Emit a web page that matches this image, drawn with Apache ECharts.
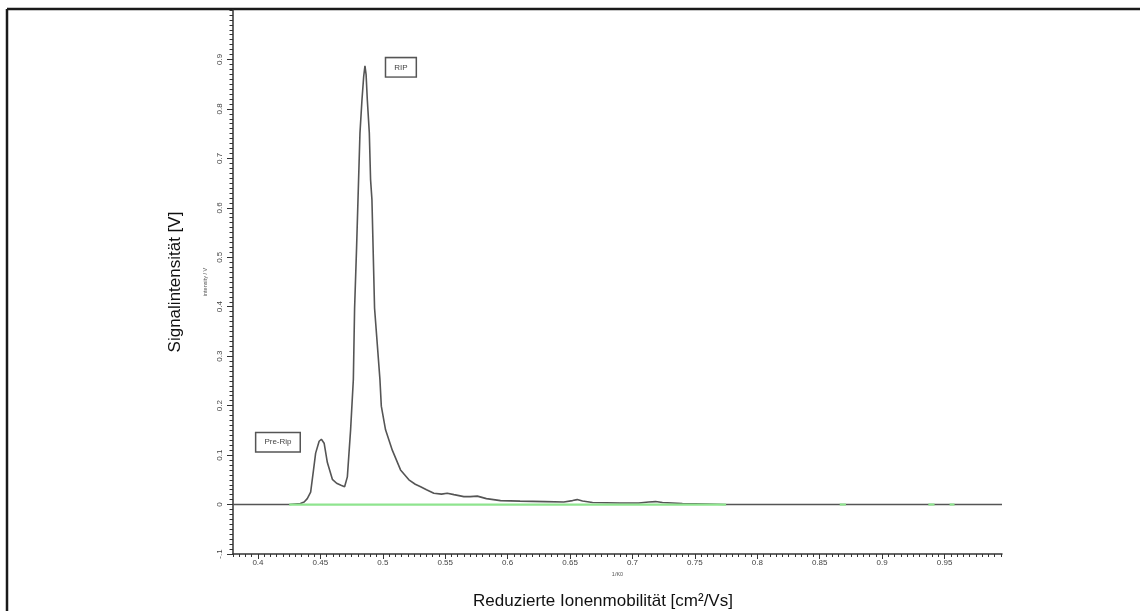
<!DOCTYPE html>
<html>
<head>
<meta charset="utf-8">
<script src="https://cdn.jsdelivr.net/npm/echarts@6/dist/echarts.min.js"></script>
<style>html,body{margin:0;padding:0;background:#fff}#c{width:1140px;height:611px}</style>
</head>
<body>
<div id="c"></div>
<script>
// ---- data ----
var ionMobility = [0.380,0.425,0.434,0.437,0.4395,0.4422,0.4445,0.4462,0.449,0.4508,0.453,0.4556,0.4596,0.4630,0.4665,0.4694,0.4716,0.4742,0.4764,0.4774,0.4790,0.4806,0.4817,0.4833,0.4847,0.4857,0.4866,0.4876,0.4892,0.4902,0.4913,0.4934,0.4977,0.4988,0.5022,0.5076,0.5142,0.5209,0.5260,0.5303,0.5350,0.5409,0.5470,0.5516,0.5570,0.5649,0.5700,0.5757,0.5830,0.5943,0.610,0.630,0.645,0.652,0.6557,0.660,0.668,0.690,0.705,0.713,0.7185,0.724,0.740,0.760,0.775,0.996];
var signal      = [0,    0,    0.002,0.005,0.012,0.025, 0.070, 0.104, 0.128,0.132, 0.124,0.085, 0.051, 0.043, 0.039, 0.036, 0.056, 0.151, 0.253, 0.397, 0.520, 0.657, 0.751, 0.818, 0.866, 0.887, 0.870, 0.818, 0.751, 0.657, 0.616, 0.397, 0.253, 0.199, 0.151, 0.110, 0.070, 0.050, 0.041, 0.036, 0.030, 0.023, 0.021, 0.023, 0.020, 0.016, 0.016, 0.017, 0.012, 0.008, 0.007,0.006,0.005,0.008,0.010, 0.007,0.004,0.003,0.003,0.005,0.006, 0.004,0.002,0.001,0.000,0];
var greenSegments = [[0.425,0.775],[0.866,0.871],[0.937,0.942],[0.954,0.958]];
var xTickLabels = [0.4,0.45,0.5,0.55,0.6,0.65,0.7,0.75,0.8,0.85,0.9,0.95];
var yTickLabels = [-0.1,0,0.1,0.2,0.3,0.4,0.5,0.6,0.7,0.8,0.9];
var annotations = [
  {name:'RIP', x:0.5145, y:0.884},
  {name:'Pre-Rip', x:0.416, y:0.126}
];
var X_MIN = 0.38, X_MAX = 0.996, Y_MIN = -0.1, Y_MAX = 1.0;

// minor tick positions
var xMinor = [], yMinor = [];
for (var i = 0; i <= 123; i++) { var v = +(0.38 + i*0.005).toFixed(3); if (v <= X_MAX) xMinor.push(v); }
for (var j = 0; j <= 110; j++) { yMinor.push(+(-0.1 + j*0.01).toFixed(2)); }

var curve = ionMobility.map(function(x,k){ return [x, signal[k]]; });

var FONT = 'Liberation Sans, Arial, sans-serif';
var lblFont = {fontFamily:FONT, fontSize:8, color:'#444'};

var series = [{
  type:'line', name:'spectrum', xAxisIndex:0, yAxisIndex:0, data:curve,
  showSymbol:false, smooth:false,
  lineStyle:{color:'#555555', width:1.6}, z:2,
  markPoint:{
    symbol:'rect', symbolSize:0,
    label:{show:true, formatter:'{b}', fontFamily:FONT, fontSize:8, color:'#444',
      borderColor:'#555', borderWidth:1.5, backgroundColor:'#fff', padding:[5,8,5,8]},
    data:annotations.map(function(a){ return {name:a.name, coord:[a.x, a.y]}; })
  }
}];
greenSegments.forEach(function(s, k){
  series.push({
    type:'line', name:'baseline' + k, xAxisIndex:0, yAxisIndex:0,
    data:[[s[0],0],[s[1],0]], showSymbol:false,
    lineStyle:{color:'#8fe48f', width:2.2}, z:3
  });
});

var chart = echarts.init(document.getElementById('c'), null, {renderer:'canvas'});
chart.setOption({
  animation:false,
  backgroundColor:'#fff',
  grid:{left:233, top:10, right:138, bottom:57, containLabel:false},
  xAxis:[{
    type:'value', min:X_MIN, max:X_MAX, position:'bottom',
    name:'1/K0', nameLocation:'middle', nameGap:12,
    nameTextStyle:{fontFamily:FONT, fontSize:5.5, color:'#555'},
    axisLine:{show:true, onZero:false, lineStyle:{color:'#333', width:1.5}},
    axisTick:{show:true, customValues:xTickLabels, length:5, lineStyle:{color:'#333', width:1}},
    axisLabel:Object.assign({show:true, customValues:xTickLabels, margin:5, formatter:function(v){return String(+v.toFixed(2));}}, lblFont),
    splitLine:{show:false}
  },{
    type:'value', min:X_MIN, max:X_MAX, position:'bottom', offset:0,
    axisLine:{show:false, onZero:false},
    axisTick:{show:true, customValues:xMinor, length:3, lineStyle:{color:'#333', width:1}},
    axisLabel:{show:false}, splitLine:{show:false}
  }],
  yAxis:[{
    type:'value', min:Y_MIN, max:Y_MAX, position:'left',
    name:'intensity / V', nameLocation:'middle', nameGap:20,
    nameTextStyle:{fontFamily:FONT, fontSize:5.5, color:'#555'},
    axisLine:{show:true, onZero:false, lineStyle:{color:'#333', width:1.5}},
    axisTick:{show:true, customValues:yTickLabels, length:6, lineStyle:{color:'#333', width:1}},
    axisLabel:Object.assign({show:true, customValues:yTickLabels, rotate:90, margin:9,
      formatter:function(v){ if (Math.abs(v) < 1e-9) return '0'; if (v < 0) return '-.1'; return String(+v.toFixed(1)); }}, lblFont),
    splitLine:{show:false}
  },{
    type:'value', min:Y_MIN, max:Y_MAX, position:'left', offset:0,
    axisLine:{show:false, onZero:false},
    axisTick:{show:true, customValues:yMinor, length:3.5, lineStyle:{color:'#333', width:1}},
    axisLabel:{show:false}, splitLine:{show:false}
  }],
  series:series,
  graphic:[
    {type:'line', shape:{x1:7, y1:9, x2:1140, y2:9}, style:{stroke:'#1a1a1a', lineWidth:2.5}},
    {type:'line', shape:{x1:7, y1:9, x2:7, y2:611}, style:{stroke:'#1a1a1a', lineWidth:2.5}},
    {type:'text', x:175, y:282, rotation:Math.PI/2,
      style:{text:'Signalintensität [V]', fontFamily:FONT, fontSize:17, fill:'#111', textAlign:'center', textVerticalAlign:'middle'}},
    {type:'text', x:603, y:601,
      style:{text:'Reduzierte Ionenmobilität [cm²/Vs]', fontFamily:FONT, fontSize:17, fill:'#111', textAlign:'center', textVerticalAlign:'middle'}}
  ]
});
</script>
</body>
</html>
